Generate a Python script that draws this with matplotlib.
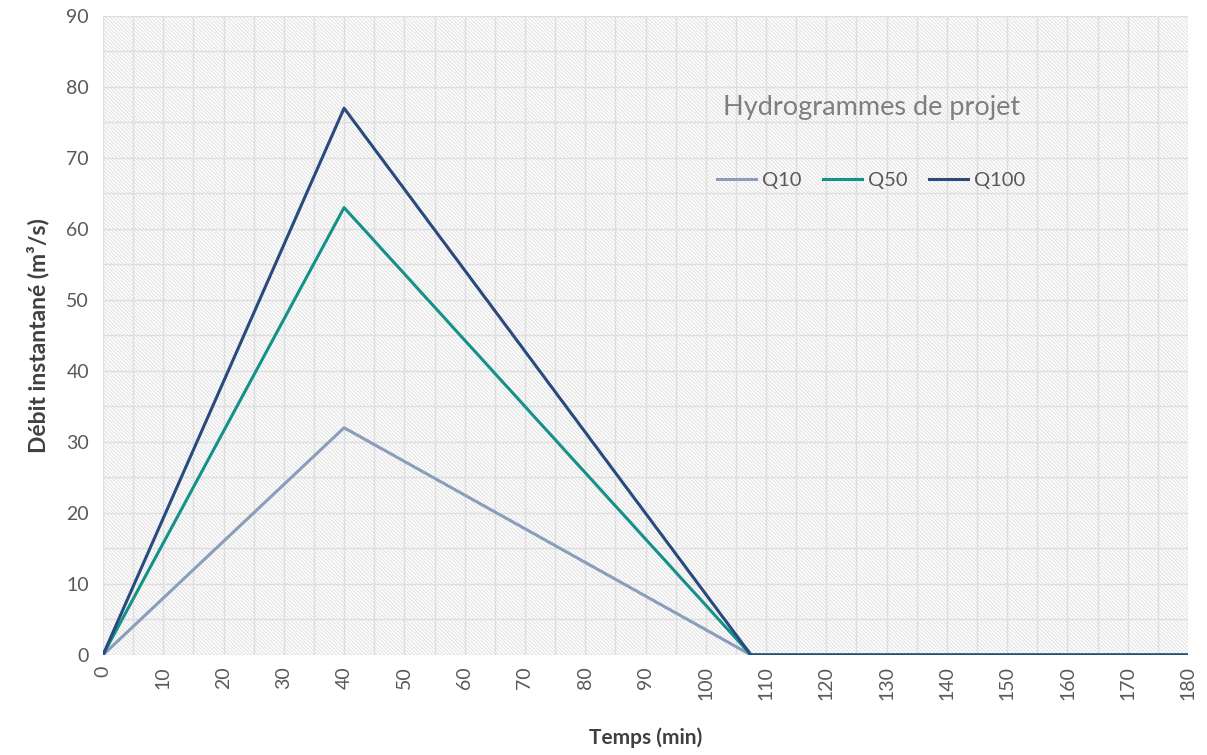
import matplotlib.pyplot as plt
from matplotlib.ticker import MultipleLocator

# Triangular design hydrographs: rise to peak at 40 min, back to zero at ~107.5 min
temps = [0, 40, 107.5, 180]
q10 = [0, 32, 0, 0]
q50 = [0, 63, 0, 0]
q100 = [0, 77, 0, 0]

C_Q10 = "#8a9dbb"
C_Q50 = "#16918a"
C_Q100 = "#284a7c"
GRID = "#dedede"
TXT = "#595959"

plt.rcParams["font.family"] = ["Lato", "DejaVu Sans"]
plt.rcParams["hatch.color"] = "#e3e3e3"
plt.rcParams["hatch.linewidth"] = 0.8

fig = plt.figure(figsize=(12.07, 7.55), dpi=100)
ax = fig.add_axes([0.0853, 0.1325, 0.8990, 0.8465])

ax.patch.set_facecolor("white")
ax.patch.set_hatch("\\" * 9)
ax.patch.set_edgecolor("#e3e3e3")
ax.patch.set_linewidth(0)

ax.plot(temps, q10, color=C_Q10, lw=2.2, label="Q10", zorder=3)
ax.plot(temps, q50, color=C_Q50, lw=2.2, label="Q50", zorder=4)
ax.plot(temps, q100, color=C_Q100, lw=2.2, label="Q100", zorder=5)

ax.set_xlim(0, 180)
ax.set_ylim(0, 90)
ax.xaxis.set_major_locator(MultipleLocator(10))
ax.yaxis.set_major_locator(MultipleLocator(10))
ax.xaxis.set_minor_locator(MultipleLocator(5))
ax.yaxis.set_minor_locator(MultipleLocator(5))
ax.grid(which="both", color=GRID, lw=1.0, zorder=1)
ax.set_axisbelow(True)

for s in ax.spines.values():
    s.set_visible(False)
ax.tick_params(which="both", length=0)
ax.tick_params(axis="y", pad=10, labelsize=14, labelcolor=TXT)
ax.tick_params(axis="x", pad=8, labelsize=14, labelcolor=TXT, labelrotation=90)

ax.set_xlabel("Temps (min)", fontsize=15, fontweight="bold", color="#404040", labelpad=20)
ax.set_ylabel("Débit instantané (m³/s)", fontsize=16.5, fontweight="bold", color="#404040", labelpad=12)

ax.text(0.708, 0.856, "Hydrogrammes de projet", transform=ax.transAxes,
        ha="center", va="center", fontsize=19.5, color="#7f7f7f")
ax.legend(loc="center", bbox_to_anchor=(0.708, 0.742), ncol=3, frameon=False,
          fontsize=14.5, labelcolor=TXT, handlelength=1.9, handletextpad=0.3,
          columnspacing=1.1)

fig.savefig("out.png", dpi=100)
